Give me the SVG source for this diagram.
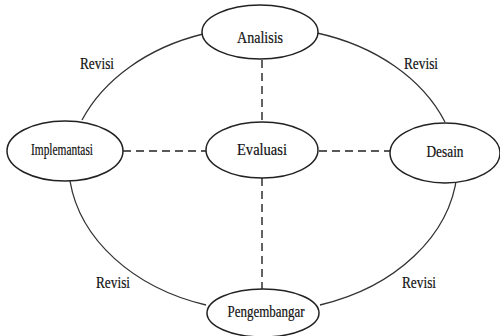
<svg xmlns="http://www.w3.org/2000/svg" width="500" height="336" viewBox="0 0 500 336">
<style>
.node{fill:#fff;stroke:#222;stroke-width:1.5}
.lbl{font-family:"Liberation Serif","Times New Roman",serif;font-size:16px;fill:#111;stroke:#111;stroke-width:0.2;text-anchor:middle}
.arc{fill:none;stroke:#333;stroke-width:1.3}
.dash{fill:none;stroke:#222;stroke-width:1.4;stroke-dasharray:8 5}
</style>
<rect width="500" height="336" fill="#fff"/>
<g id="connectors">
<path class="arc" d="M203,34 A195,150 0 0 0 82,120"/>
<path class="arc" d="M317,33 A195,150 0 0 1 445,122"/>
<path class="arc" d="M70,181 A195,150 0 0 0 206,305"/>
<path class="arc" d="M457,175 A195,150 0 0 1 320,305"/>
<line class="dash" x1="262" y1="60" x2="262" y2="122"/>
<line class="dash" x1="262" y1="178" x2="262" y2="289"/>
<line class="dash" x1="123" y1="151" x2="206" y2="151"/>
<line class="dash" x1="319" y1="151" x2="390" y2="151"/>
<text class="lbl" x="97" y="69" textLength="34" lengthAdjust="spacingAndGlyphs">Revisi</text>
<text class="lbl" x="421" y="69" textLength="34" lengthAdjust="spacingAndGlyphs">Revisi</text>
<text class="lbl" x="113" y="288" textLength="34" lengthAdjust="spacingAndGlyphs">Revisi</text>
<text class="lbl" x="419" y="288" textLength="34" lengthAdjust="spacingAndGlyphs">Revisi</text>
</g>
<g id="analisis">
<ellipse class="node" cx="260" cy="32" rx="58" ry="27"/>
<text class="lbl" x="260" y="43" textLength="46" lengthAdjust="spacingAndGlyphs">Analisis</text>
</g>
<g id="evaluasi">
<ellipse class="node" cx="262" cy="150" rx="56" ry="28"/>
<text class="lbl" x="262" y="155" textLength="50" lengthAdjust="spacingAndGlyphs">Evaluasi</text>
</g>
<g id="implementasi">
<ellipse class="node" cx="65" cy="151" rx="58" ry="30"/>
<text class="lbl" x="62" y="155" textLength="62" lengthAdjust="spacingAndGlyphs">Implemantasi</text>
</g>
<g id="desain">
<ellipse class="node" cx="445" cy="153" rx="55" ry="30"/>
<text class="lbl" x="445" y="157" textLength="37" lengthAdjust="spacingAndGlyphs">Desain</text>
</g>
<g id="pengembangar">
<ellipse class="node" cx="263" cy="313" rx="56" ry="24"/>
<text class="lbl" x="266" y="317" textLength="77" lengthAdjust="spacingAndGlyphs">Pengembangar</text>
</g>
</svg>
